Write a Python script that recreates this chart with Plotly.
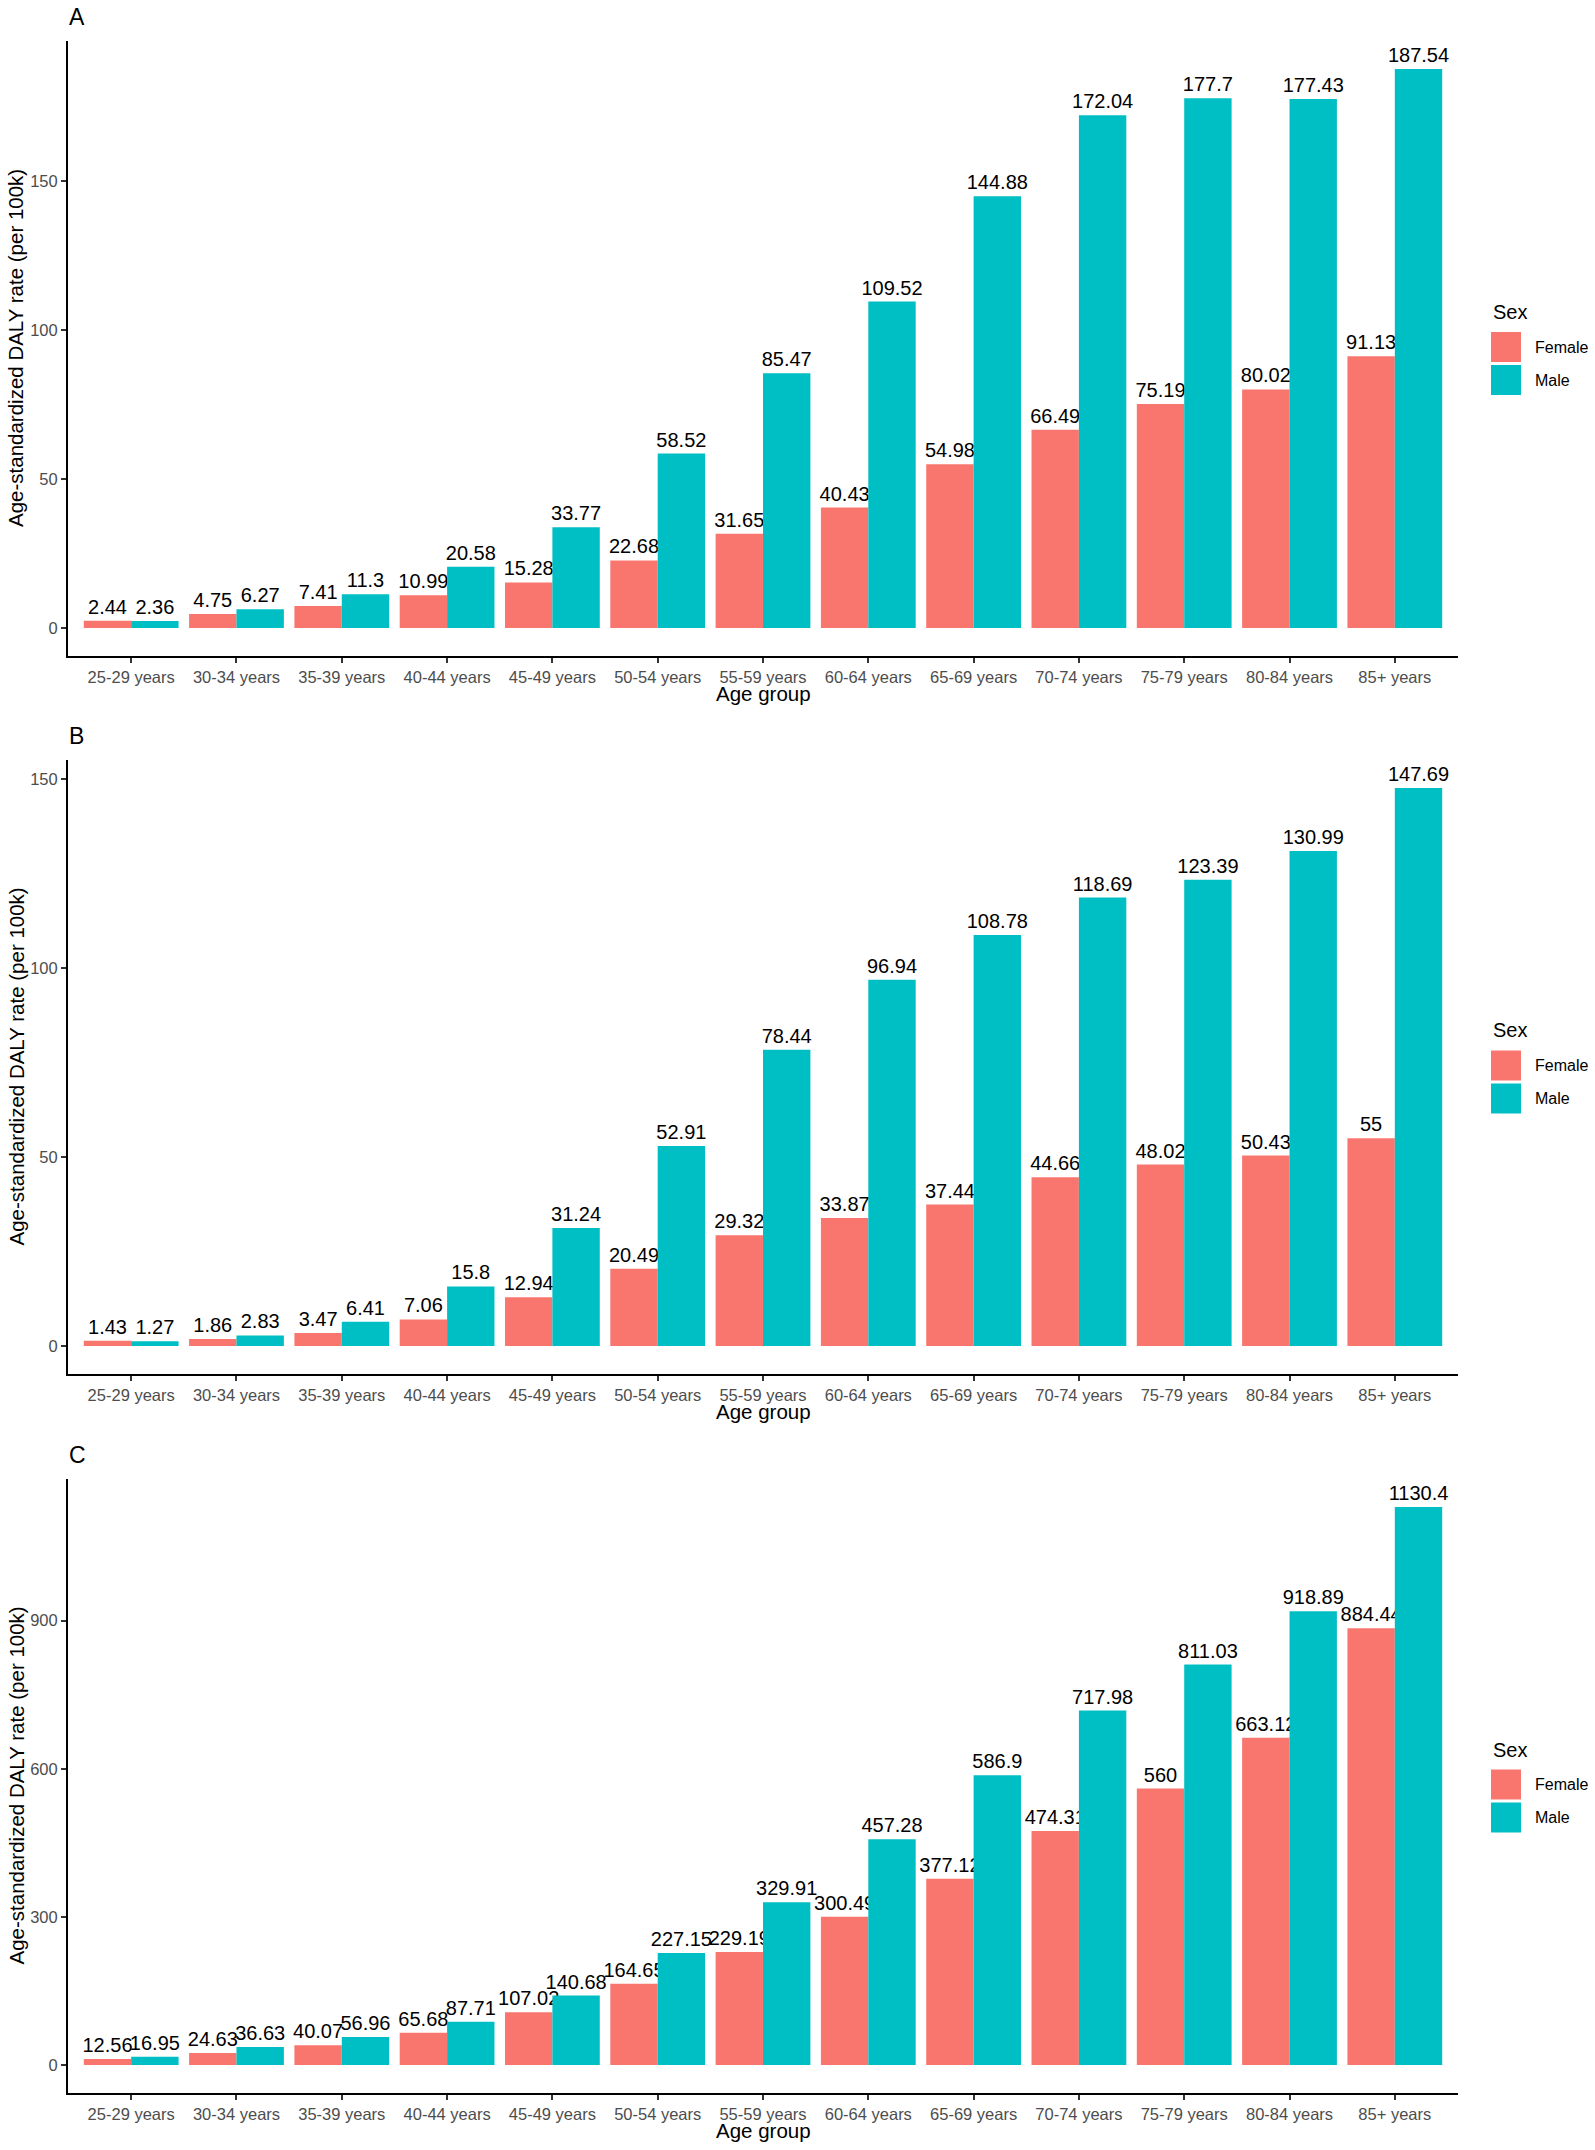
import plotly.graph_objects as go

W, H = 1595, 2150

age_groups = ["25-29 years", "30-34 years", "35-39 years", "40-44 years", "45-49 years",
              "50-54 years", "55-59 years", "60-64 years", "65-69 years", "70-74 years",
              "75-79 years", "80-84 years", "85+ years"]

a_female = [2.44, 4.75, 7.41, 10.99, 15.28, 22.68, 31.65, 40.43, 54.98, 66.49, 75.19, 80.02, 91.13]
a_male = [2.36, 6.27, 11.3, 20.58, 33.77, 58.52, 85.47, 109.52, 144.88, 172.04, 177.7, 177.43, 187.54]

b_female = [1.43, 1.86, 3.47, 7.06, 12.94, 20.49, 29.32, 33.87, 37.44, 44.66, 48.02, 50.43, 55.0]
b_male = [1.27, 2.83, 6.41, 15.8, 31.24, 52.91, 78.44, 96.94, 108.78, 118.69, 123.39, 130.99, 147.69]

c_female = [12.56, 24.63, 40.07, 65.68, 107.02, 164.65, 229.19, 300.49, 377.12, 474.31, 560.0, 663.12, 884.44]
c_male = [16.95, 36.63, 56.96, 87.71, 140.68, 227.15, 329.91, 457.28, 586.9, 717.98, 811.03, 918.89, 1130.4]

a_ticks = [0, 50, 100, 150]
b_ticks = [0, 50, 100, 150]
c_ticks = [0, 300, 600, 900]

panel_labels = ["A", "B", "C"]
sex_labels = ["Female", "Male"]

FEMALE_COL = "#F8766D"
MALE_COL = "#00BFC4"
FONT = "Liberation Sans, Arial, sans-serif"

panels = [
    (a_female, a_male, a_ticks),
    (b_female, b_male, b_ticks),
    (c_female, c_male, c_ticks),
]

# pixel geometry of each panel (top, bottom)
panel_px = [(41, 656), (760, 1374), (1479, 2093)]
x_left, x_right = 68, 1458


def px_x(x):
    return x / W


def px_y(y):
    return 1 - y / H


def fmt(v):
    return f"{v:g}"


fig = go.Figure()
layout = dict(
    width=W, height=H,
    margin=dict(l=0, r=0, t=0, b=0),
    paper_bgcolor="white", plot_bgcolor="white",
    barmode="group", bargap=0.1, bargroupgap=0,
    showlegend=False,
    font=dict(family=FONT, color="black"),
)

annotations = []
shapes = []

for i, (fem, mal, ticks) in enumerate(panels):
    n = "" if i == 0 else str(i + 1)
    xa, ya = "x" + n, "y" + n
    for vals, name, col in [(fem, sex_labels[0], FEMALE_COL), (mal, sex_labels[1], MALE_COL)]:
        fig.add_trace(go.Bar(
            x=age_groups, y=vals, name=name, marker=dict(color=col, line=dict(width=0)),
            text=[fmt(v) for v in vals], textposition="outside", constraintext="none",
            textfont=dict(size=20, color="black", family=FONT), cliponaxis=False,
            offsetgroup=name, xaxis=xa, yaxis=ya, showlegend=False,
        ))
    top, bot = panel_px[i]
    vmax = max(max(fem), max(mal))
    layout["xaxis" + n] = dict(
        domain=[px_x(x_left), px_x(x_right)], anchor=ya,
        type="category", range=[-0.6, len(age_groups) - 0.4],
        showline=True, linecolor="black", linewidth=2,
        ticks="outside", ticklen=5, tickwidth=1.5, tickcolor="#333333",
        tickfont=dict(size=16.5, color="#4D4D4D", family=FONT),
        showgrid=False, zeroline=False,
    )
    layout["yaxis" + n] = dict(
        domain=[px_y(bot), px_y(top)], anchor=xa,
        range=[-0.05 * vmax, 1.05 * vmax],
        tickvals=ticks, ticktext=[str(t) for t in ticks],
        showline=True, linecolor="black", linewidth=2,
        ticks="outside", ticklen=5, tickwidth=1.5, tickcolor="#333333",
        tickfont=dict(size=16.5, color="#4D4D4D", family=FONT),
        showgrid=False, zeroline=False,
    )
    # panel letter
    annotations.append(dict(text=panel_labels[i], x=px_x(67), y=px_y(top - 24), xref="paper", yref="paper",
                            xanchor="left", yanchor="middle", showarrow=False,
                            font=dict(size=23, color="black", family=FONT)))
    # axis titles
    annotations.append(dict(text="Age-standardized DALY rate (per 100k)", x=px_x(15.5), y=px_y((top + bot) / 2),
                            xref="paper", yref="paper", xanchor="center", yanchor="middle", textangle=-90,
                            showarrow=False, font=dict(size=20.5, color="black", family=FONT)))
    annotations.append(dict(text="Age group", x=px_x((x_left + x_right) / 2), y=px_y(bot + 37),
                            xref="paper", yref="paper", xanchor="center", yanchor="middle",
                            showarrow=False, font=dict(size=20.5, color="black", family=FONT)))
    # legend (drawn)
    off = (top + bot) / 2 - 348.5
    annotations.append(dict(text="Sex", x=px_x(1491), y=px_y(312 + off), xref="paper", yref="paper",
                            xanchor="left", yanchor="middle", showarrow=False,
                            font=dict(size=20, color="black", family=FONT)))
    for k, (lab, col) in enumerate([(sex_labels[0], FEMALE_COL), (sex_labels[1], MALE_COL)]):
        y0 = 332 + off + k * 33
        shapes.append(dict(type="rect", xref="paper", yref="paper",
                           x0=px_x(1491), x1=px_x(1521), y0=px_y(y0), y1=px_y(y0 + 30),
                           fillcolor=col, line=dict(width=0)))
        annotations.append(dict(text=lab, x=px_x(1533), y=px_y(y0 + 15), xref="paper", yref="paper",
                                xanchor="left", yanchor="middle", showarrow=False,
                                font=dict(size=16, color="black", family=FONT)))

layout["annotations"] = annotations
layout["shapes"] = shapes
fig.update_layout(**layout)
fig.write_html("out.html", config={"displayModeBar": False},
               post_script="document.body.style.margin='0px';")
